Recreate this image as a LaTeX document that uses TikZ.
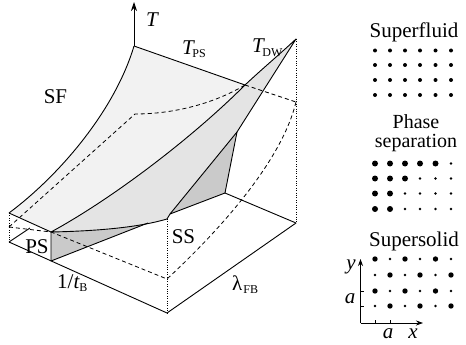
\documentclass[tikz,border=0pt]{standalone}
\usepackage{fontspec}
\setmainfont{Liberation Serif}
\usetikzlibrary{arrows.meta}
\definecolor{sfgray}{HTML}{F2F2F2}
\definecolor{dwgray}{HTML}{E4E4E4}
\definecolor{dkgray}{HTML}{CACACA}
\newcommand{\subtxt}[1]{\raisebox{-3pt}{\fontsize{12}{12}\selectfont #1}}
\begin{document}
\begin{tikzpicture}[x=1pt,y=-1pt,
  edge/.style={line width=0.9pt,line join=round},
  hid/.style={line width=0.8pt,dash pattern=on 4pt off 3pt},
  dotl/.style={line width=0.8pt,dash pattern=on 0.8pt off 1.6pt},
  lbl/.style={font=\fontsize{21}{24}\selectfont,inner sep=0pt},
  axarrow/.style={line width=0.9pt,-{Stealth[length=9pt,width=6pt]}},
  smarrow/.style={line width=0.8pt,-{Stealth[length=7pt,width=5pt]}}]
\useasboundingbox (0,0) rectangle (466,345);
% key points
\coordinate (Ttop) at (134,46);
\coordinate (Tarr) at (134,2);
\coordinate (J) at (245,85);
\coordinate (Pk) at (296,39);
\coordinate (Bk) at (296,102);
\coordinate (Lt) at (9,213);
\coordinate (Lb) at (9,242);
\coordinate (Lm) at (9,227);
\coordinate (Ls) at (30,228);
\coordinate (Ft) at (51,232);
\coordinate (Fb) at (51,261);
\coordinate (Fr) at (167,313);
\coordinate (Rr) at (296,223);
\coordinate (SSv) at (167,219);
\coordinate (V1) at (170,214);
\coordinate (D1) at (237,132);
\coordinate (D2) at (225,193);
\coordinate (W) at (148,223);
\coordinate (H1) at (167,279);
\coordinate (M1) at (135,114);
% surfaces
\fill[sfgray] (Ttop) -- (J) .. controls (190,140) and (110,200) .. (Ft) -- (Lt)
  .. controls (60,175) and (115,110) .. (Ttop) -- cycle;
\fill[dkgray] (Ft) -- (Fb) -- (W) -- cycle;
\fill[dwgray] (Ft) .. controls (110,200) and (190,140) .. (J)
  .. controls (262,69) and (280,54) .. (Pk) -- (D1) -- (V1) -- (SSv)
  .. controls (140,227) and (100,231) .. (Ft) -- cycle;
\fill[dkgray] (V1) -- (D1) -- (D2) -- cycle;
% hidden lines
\draw[hid] (J) -- (Bk);
\draw[hid] (Lm) -- (M1) .. controls (175,114) and (215,103) .. (J);
\draw[hid] (Lm) -- (Ft) -- (H1) .. controls (222,228) and (282,160) .. (Bk);
% dotted verticals
\draw[dotl] (Pk) -- (Rr);
\draw[dotl] (SSv) -- (Fr);
\draw[dotl] (Lt) -- (Lb);
% solid edges
\draw[axarrow] (Ttop) -- (Tarr);
\draw[edge] (Ttop) -- (J);
\draw[edge] (Lt) .. controls (60,175) and (115,110) .. (Ttop);
\draw[edge] (Lt) -- (Ft) -- (Fb);
\draw[edge] (Lb) -- (Fr) -- (Rr) -- (D2);
\draw[edge] (Lb) -- (Ls);
\draw[edge] (Fb) -- (W);
\draw[edge] (Ft) .. controls (110,200) and (190,140) .. (J)
  .. controls (262,69) and (280,54) .. (Pk) -- (D1) -- (V1) -- (SSv)
  .. controls (140,227) and (100,231) .. (Ft);
\draw[edge] (V1) -- (D2) -- (D1);
% labels
\node[lbl,anchor=base] (tT) at (152,27) {\itshape T};
\node[lbl,anchor=base west] (tPS) at (182,55) {{\itshape T}\kern-1.5pt\subtxt{PS}};
\node[lbl,anchor=base west] (tDW) at (252,53) {{\itshape T}\kern-1.5pt\subtxt{DW}};
\node[lbl,anchor=base] (tSF) at (55.5,103) {SF};
\node[lbl,anchor=base] (tPSr) at (37,253) {PS};
\node[lbl,anchor=base] (tSS) at (183.5,243) {SS};
\node[lbl,anchor=base west] (ttB) at (57,288) {1/{\itshape t}\subtxt{B}};
\node[lbl,anchor=base west] (tlam) at (232,290) {λ\kern1pt\subtxt{FB}};
% right panel
\node[lbl,anchor=base] (hSF) at (414,38) {Superfluid};
\node[lbl,align=center,font=\fontsize{20}{18.5}\selectfont,anchor=center] (hPh) at (416,133) {Phase\\separation};
\node[lbl,anchor=base] (hSS) at (414,246) {Supersolid};
% superfluid dots
\foreach \yy in {50.5,65,80,95}
  \foreach \xx in {375,390,405,420,435.5,451}
    \fill (\xx,\yy) circle[radius=2];
% phase separation dots (big count per row)
\foreach \yy/\nb in {163.5/5,178.5/3,193.5/2,209/2}
  \foreach \xx [count=\i] in {375,390,405,420,435.5,451}{
    \ifnum\i>\nb \fill (\xx,\yy) circle[radius=1.3];
    \else \fill (\xx,\yy) circle[radius=3];\fi}
% supersolid dots
\foreach \yy [count=\r] in {259,275,291,306}
  \foreach \xx [count=\i] in {375,390,405,420,435.5,451}{
    \pgfmathtruncatemacro{\pty}{mod(\r+\i,2)}
    \ifnum\pty=0 \fill (\xx,\yy) circle[radius=2.7];
    \else \fill (\xx,\yy) circle[radius=1.3];\fi}
% axes
\coordinate (O) at (360.5,323);
\coordinate (Yend) at (360.5,259);
\coordinate (Xend) at (423,323);
\draw[smarrow] (O) -- (Yend);
\draw[smarrow] (O) -- (Xend);
\draw[line width=0.6pt] (360.5,291) -- (364,291) (360.5,306) -- (364,306)
  (375,323) -- (375,319.5) (390,323) -- (390,319.5);
\node[lbl,anchor=base] (ly) at (351,269) {\itshape y};
\node[lbl,anchor=base] (la) at (350,303) {\itshape a};
\node[lbl,anchor=base] (lb) at (388,338) {\itshape a};
\node[lbl,anchor=base] (lx) at (413,338) {\itshape x};
\end{tikzpicture}
\end{document}
